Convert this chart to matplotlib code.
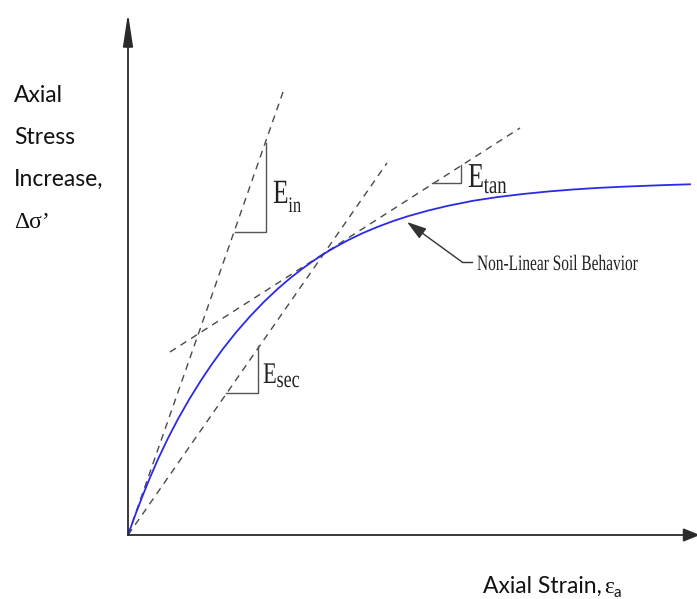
import matplotlib
matplotlib.use("Agg")
from matplotlib import pyplot as plt
from matplotlib.textpath import TextPath
from matplotlib.font_manager import FontProperties
from matplotlib.patches import PathPatch
from matplotlib.transforms import Affine2D

# stress-strain curve (strain, stress increase)
strain = [0, 0.08, 0.15, 0.22, 0.30, 0.40, 0.50, 0.61, 0.72, 0.83, 0.95,
          1.08, 1.22, 1.36, 1.50, 1.62, 1.75, 1.86, 1.97, 2.08, 2.20,
          2.35, 2.50, 2.65, 2.80, 3.00, 3.20, 3.45, 3.70, 3.95, 4.20,
          4.45, 4.70, 4.95, 5.20, 5.42, 5.62]
stress = [0, 0.220, 0.402, 0.574, 0.758, 0.968, 1.160, 1.353, 1.531, 1.696,
          1.862, 2.026, 2.186, 2.332, 2.464, 2.567, 2.668, 2.746, 2.818,
          2.883, 2.948, 3.020, 3.083, 3.139, 3.188, 3.244, 3.292, 3.342,
          3.380, 3.410, 3.435, 3.455, 3.471, 3.483, 3.493, 3.501, 3.507]

# modulus construction lines
e_in_x, e_in_y = [0, 1.55], [0, 4.43]
e_sec_x, e_sec_y = [0, 2.59], [0, 3.72]
e_tan_x, e_tan_y = [0.42, 3.92], [1.83, 4.07]

# slope triangles
tri_in_x, tri_in_y = [1.38, 1.38, 1.07], [3.92, 3.03, 3.03]
tri_sec_x, tri_sec_y = [1.30, 1.30, 0.98], [1.89, 1.42, 1.42]
tri_tan_x, tri_tan_y = [3.33, 3.33, 3.04], [3.70, 3.52, 3.52]

fig = plt.figure(figsize=(6.97, 5.99), dpi=100)
ax = fig.add_axes([0, 0, 1, 1])
ax.set_xlim(-1.28, 5.69)
ax.set_ylim(-0.64, 5.35)
ax.axis('off')

serif = FontProperties(family='Liberation Serif')


def squeezed(x, y, s, h, sx=0.75, color='#222222'):
    # narrow serif text drawn as a path so it can be squeezed sideways
    p = TextPath((0, 0), s, size=1, prop=serif)
    p = Affine2D().scale(h * sx, h).translate(x, y).transform_path(p)
    ax.add_patch(PathPatch(p, fc=color, ec='none', lw=0))
    return p.get_extents().x1


# axes with arrow heads
axc = '#2a2a2a'
ax.annotate('', xy=(0, 5.22), xytext=(0, 0),
            arrowprops=dict(arrowstyle='-|>,head_length=1.0,head_width=0.15',
                            color=axc, lw=1.3, mutation_scale=20,
                            shrinkA=0, shrinkB=0), annotation_clip=False)
ax.annotate('', xy=(5.72, 0), xytext=(0, 0),
            arrowprops=dict(arrowstyle='-|>,head_length=0.5,head_width=0.2',
                            color=axc, lw=1.3, mutation_scale=20,
                            shrinkA=0, shrinkB=0), annotation_clip=False)

dash = dict(color='#4a4a4a', lw=1.0, dashes=(5, 4))
ax.plot(e_in_x, e_in_y, **dash)
ax.plot(e_sec_x, e_sec_y, **dash)
ax.plot(e_tan_x, e_tan_y, **dash)

for tx, ty in [(tri_in_x, tri_in_y), (tri_sec_x, tri_sec_y), (tri_tan_x, tri_tan_y)]:
    ax.plot(tx, ty, color='#555555', lw=1.0)

ax.plot(strain, stress, color='#2a2ae8', lw=1.3, solid_joinstyle='round')

# modulus labels
r = squeezed(1.45, 3.32, 'E', 0.34)
squeezed(r + 0.01, 3.23, 'in', 0.22)
r = squeezed(1.35, 1.52, 'E', 0.30)
squeezed(r + 0.01, 1.48, 'sec', 0.24)
r = squeezed(3.40, 3.48, 'E', 0.35)
squeezed(r + 0.01, 3.42, 'tan', 0.25)

# callout for the curve
ax.annotate('', xy=(2.79, 3.13), xytext=(3.34, 2.73),
            arrowprops=dict(arrowstyle='-|>,head_length=0.8,head_width=0.25',
                            color='#333333', lw=1.0, mutation_scale=15,
                            shrinkA=0, shrinkB=0))
ax.plot([3.34, 3.44], [2.73, 2.73], color='#333333', lw=1.0)
squeezed(3.49, 2.65, 'Non-Linear Soil Behavior', 0.22, sx=0.70)

# axis titles
lab = dict(family=['Lato', 'DejaVu Sans'], fontsize=16.5, color='#111111')
for i, s in enumerate(['Axial', 'Stress', 'Increase,']):
    ax.text(-1.14, 4.33 - 0.42 * i, s, va='baseline', ha='left', **lab)
ax.text(-1.14, 3.07, 'Δσ’', va='baseline', ha='left',
        family=['Liberation Serif', 'DejaVu Serif'], fontsize=17, color='#111111')
ax.text(3.55, -0.58, 'Axial Strain,', va='baseline', ha='left', **lab)
ax.text(4.76, -0.58, 'ε', va='baseline', ha='left',
        family=['Liberation Serif', 'DejaVu Serif'], fontsize=17, color='#111111')
ax.text(4.86, -0.62, 'a', va='baseline', ha='left',
        family=['Lato', 'DejaVu Sans'], fontsize=11, color='#111111')

fig.savefig('out.png', dpi=100)
